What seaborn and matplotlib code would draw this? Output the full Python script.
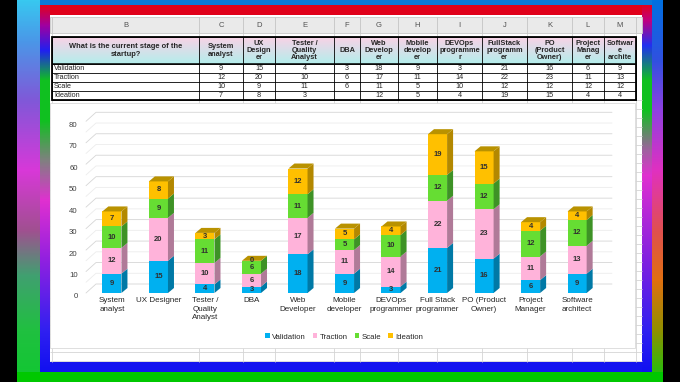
import matplotlib
matplotlib.use("Agg")
import matplotlib.pyplot as plt
import matplotlib.transforms as mtransforms
from matplotlib.colors import to_rgb
from matplotlib.patches import Polygon, Rectangle
import numpy as np
import pandas as pd
import seaborn as sns

roles = [
    "System analyst", "UX Designer", "Tester / Quality Analyst", "DBA",
    "Web Developer", "Mobile developer", "DEVOps programmer",
    "Full Stack programmer", "PO (Product Owner)", "Project Manager",
    "Software architect",
]
chart_labels = [
    "System\nanalyst", "UX Designer", "Tester /\nQuality\nAnalyst", "DBA",
    "Web\nDeveloper", "Mobile\ndeveloper", "DEVOps\nprogrammer",
    "Full Stack\nprogrammer", "PO (Product\nOwner)", "Project\nManager",
    "Software\narchitect",
]
table_headers = [
    "System\nanalyst", "UX\nDesign\ner", "Tester /\nQuality\nAnalyst", "DBA",
    "Web\nDevelop\ner", "Mobile\ndevelop\ner", "DEVOps\nprogramme\nr",
    "FullStack\nprogramm\ner", "PO\n(Product\nOwner)", "Project\nManag\ner",
    "Softwar\ne\narchite",
]
question = "What is the current stage of the\nstartup?"
col_letters = ["B", "C", "D", "E", "F", "G", "H", "I", "J", "K", "L", "M"]

stages = ["Validation", "Traction", "Scale", "Ideation"]
validation = [9, 15, 4, 3, 18, 9, 3, 21, 16, 6, 9]
traction = [12, 20, 10, 6, 17, 11, 14, 22, 23, 11, 13]
scale = [10, 9, 11, 6, 11, 5, 10, 12, 12, 12, 12]
ideation = [7, 8, 3, 0, 12, 5, 4, 19, 15, 4, 4]
y_ticks = [0, 10, 20, 30, 40, 50, 60, 70, 80]

df = pd.DataFrame({"role": roles, "Validation": validation, "Traction": traction,
                   "Scale": scale, "Ideation": ideation})
cum = df[stages].cumsum(axis=1)
cum["role"] = roles

front = {"Validation": "#00B0F0", "Traction": "#FFB3DA", "Scale": "#66DD33", "Ideation": "#FFC000"}
side = {"Validation": "#0079A6", "Traction": "#B07A98", "Scale": "#3E9226", "Ideation": "#B38800"}
top_col = "#B99200"

sns.set_theme(style="white")
plt.rcParams["font.family"] = ["Liberation Sans", "DejaVu Sans"]

W, H = 680, 382
fig = plt.figure(figsize=(6.8, 3.82), dpi=100)


def ramp(stops, n):
    pos = np.array([s[0] for s in stops], dtype=float)
    cols = np.array([to_rgb(s[1]) for s in stops])
    t = np.arange(n)
    return np.stack([np.interp(t, pos, cols[:, k]) for k in range(3)], axis=1)


# ---- frame / background -------------------------------------------------
img = np.zeros((H, W, 3))
outer_left = [(0, "#38C8F0"), (40, "#4A98E8"), (100, "#8058D8"), (170, "#D838D8"),
              (230, "#A05090"), (275, "#40A070"), (330, "#20C040"), (382, "#10C830")]
outer_right = [(0, "#0070E0"), (60, "#3050E0"), (110, "#9040E0"), (170, "#E030C0"),
               (230, "#E05050"), (280, "#E07010"), (330, "#909000"), (382, "#10C810")]
inner_left = [(5, "#E00020"), (25, "#A000A0"), (50, "#2020F0"), (80, "#10C020"),
              (120, "#10C020"), (160, "#808080"), (200, "#E030D0"), (260, "#9020E0"),
              (330, "#3020F0"), (372, "#1010F0")]
inner_right = [(5, "#E00020"), (20, "#C00080"), (45, "#2030F0"), (80, "#10C020"),
               (110, "#10C020"), (150, "#A060A0"), (175, "#E030D0"), (260, "#8020E0"),
               (330, "#3020F0"), (372, "#1010F0")]
img[:, 17:40] = ramp(outer_left, H)[:, None, :]
img[:, 652:663] = ramp(outer_right, H)[:, None, :]
img[0:5, 40:652] = to_rgb("#0A78D8")
img[372:, 17:663] = to_rgb("#00C800")
img[5:372, 40:50] = ramp(inner_left, H)[5:372, None, :]
img[5:372, 642:652] = ramp(inner_right, H)[5:372, None, :]
img[5:15, 50:642] = to_rgb("#E0001A")
img[362:372, 50:642] = to_rgb("#1414F0")
img[15:362, 50:642] = 1.0

bg = fig.add_axes([0, 0, 1, 1])
bg.imshow(img, extent=(0, W, H, 0), aspect="auto", interpolation="nearest")

colx = [52, 199, 243, 275, 334, 360, 398, 437, 482, 527, 572, 604, 636]

# sheet gridlines
bg.hlines(np.arange(100, 362, 9), 50, 642, color="#D4D4D4", lw=0.6, zorder=1)
bg.vlines(colx, 33, 362, color="#D4D4D4", lw=0.6, zorder=1)

# column letter band
bg.add_patch(Rectangle((50, 17), 592, 16, fc="#EAEAEA", ec="#C8C8C8", lw=0.6, zorder=2))
bg.vlines(colx, 17, 33, color="#C4C4C4", lw=0.6, zorder=2)
for k, letter in enumerate(col_letters):
    bg.text((colx[k] + colx[k + 1]) / 2, 25.5, letter, ha="center", va="center",
            fontsize=5.5, color="#505050", zorder=3)

# table header gradient
grad = np.linspace(0, 1, 30)[:, None, None]
head = (1 - grad) * np.array(to_rgb("#F8D2E6")) + grad * np.array(to_rgb("#B4EEEC"))
head = np.repeat(head, 2, axis=1)
bg.imshow(head, extent=(52, 636, 64, 37), aspect="auto", zorder=2)
bg.add_patch(Rectangle((52, 64), 584, 36, fc="white", lw=0, zorder=2))

row_y = [37, 64, 73, 82, 91, 100]
bg.hlines(row_y, 52, 636, color="black", lw=0.6, zorder=4)
bg.vlines(colx, 37, 100, color="black", lw=0.6, zorder=4)
bg.add_patch(Rectangle((52, 37), 584, 63, fill=False, ec="black", lw=1.3, zorder=5))
bg.hlines(64, 52, 636, color="black", lw=1.1, zorder=5)

bg.text((colx[0] + colx[1]) / 2, 50.5, question, ha="center", va="center",
        fontsize=5.4, fontweight="bold", linespacing=1.2, zorder=5)
for k, hdr in enumerate(table_headers):
    bg.text((colx[k + 1] + colx[k + 2]) / 2, 50.5, hdr, ha="center", va="center",
            fontsize=5.3, fontweight="bold", linespacing=1.05, zorder=5)
for r, stage in enumerate(stages):
    yc = (row_y[r + 1] + row_y[r + 2]) / 2
    bg.text(54, yc, stage, ha="left", va="center", fontsize=5.2, zorder=5)
    for k, v in enumerate(df[stage]):
        txt = "" if v == 0 else str(v)
        bg.text((colx[k + 1] + colx[k + 2]) / 2, yc, txt, ha="center", va="center",
                fontsize=5.2, zorder=5)

# chart area
bg.add_patch(Rectangle((50, 103), 585, 245, fc="white", ec="#D9D9D9", lw=0.6, zorder=6))
bg.set_xlim(0, W)
bg.set_ylim(H, 0)
bg.axis("off")

# ---- chart --------------------------------------------------------------
ax = fig.add_axes([84 / W, (H - 293) / H, 528 / W, 176 / H])
ax.patch.set_alpha(0)
bar_w = 0.41
for stage in reversed(stages):
    sns.barplot(data=cum, x="role", y=stage, color=front[stage], width=bar_w,
                saturation=1, linewidth=0, ax=ax, zorder=2)

ax.set_xlim(-0.6, 10.75)
ax.set_ylim(0, 82)
ax.set_xlabel("")
ax.set_ylabel("")
ax.set_yticks(y_ticks)
ax.set_yticklabels([])
ax.tick_params(axis="y", length=0)
ax.set_xticks(range(len(roles)))
ax.set_xticklabels(chart_labels, fontsize=5.8, linespacing=1.3)
ax.tick_params(axis="x", length=0, pad=3)
sns.despine(ax=ax, left=True, bottom=True)

# y labels sit a little lower, as on the 3D side wall
lab_tr = ax.get_yaxis_transform() + mtransforms.ScaledTranslation(0, -0.04, fig.dpi_scale_trans)
for t in y_ticks:
    ax.text(-0.012, t, str(t), transform=lab_tr, ha="right", va="center",
            fontsize=5.6, color="#404040")

ident = mtransforms.IdentityTransform()
dx, dy = 6, 5
wx, wy = 12, 9
x_left = ax.transData.transform((-0.6, 0))[0]
x_right = ax.transData.transform((10.75, 0))[0]

# back wall and side wall gridlines
for level in np.arange(0, 81, 5):
    yd = ax.transData.transform((0, level))[1]
    c = "#D6D6D6" if level % 10 == 0 else "#ECECEC"
    ax.add_line(plt.Line2D([x_left + 2, x_left + wx, x_right], [yd, yd + wy, yd + wy],
                           transform=ident, color=c, lw=0.6, zorder=0.5, clip_on=False))

# 3D faces and labels
for i in range(len(roles)):
    bottom = 0
    for stage in stages:
        v = df.loc[i, stage]
        top = bottom + v
        x0, y0 = ax.transData.transform((i - bar_w / 2, bottom))
        x1, y1 = ax.transData.transform((i + bar_w / 2, top))
        ax.add_patch(Polygon([(x1, y0), (x1 + dx, y0 + dy), (x1 + dx, y1 + dy), (x1, y1)],
                             closed=True, transform=ident, fc=side[stage], lw=0,
                             zorder=2, clip_on=False))
        ax.text(i, bottom + v / 2, str(v), ha="center", va="center", fontsize=5.5,
                fontweight="bold", color="#303030", zorder=4)
        bottom = top
    ax.add_patch(Polygon([(x0, y1), (x0 + dx, y1 + dy), (x1 + dx, y1 + dy), (x1, y1)],
                         closed=True, transform=ident, fc=top_col, lw=0,
                         zorder=2, clip_on=False))

handles = [Rectangle((0, 0), 1, 1, fc=front[s], lw=0) for s in stages]
fig.legend(handles, stages, loc="center", bbox_to_anchor=(344 / W, 1 - 337 / H),
           ncol=4, frameon=False, fontsize=5.6, handlelength=0.6, handleheight=0.6,
           handletextpad=0.3, columnspacing=0.9)

fig.savefig("out.png", dpi=100)
